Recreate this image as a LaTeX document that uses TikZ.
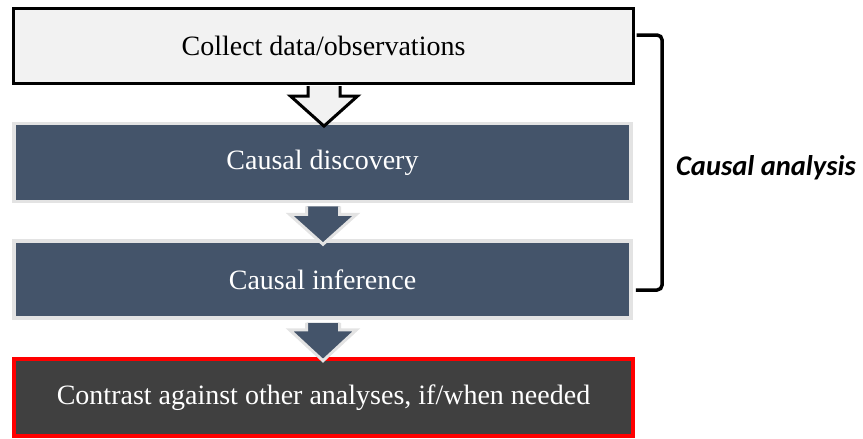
\documentclass[tikz,border=0pt]{standalone}
\usepackage{fontspec}
\setmainfont{Liberation Serif}
\newfontfamily\calib{Carlito}
\usetikzlibrary{calc}
\definecolor{topfill}{HTML}{F2F2F2}
\definecolor{slate}{HTML}{44546A}
\definecolor{edgegray}{HTML}{E3E3E3}
\definecolor{darkbox}{HTML}{404040}
\begin{document}
\begin{tikzpicture}[x=1pt,y=-1pt,
  boxbase/.style={rectangle, inner sep=0pt, font=\fontsize{28}{31}\selectfont},
  topbox/.style={boxbase, draw=black, fill=topfill, line width=3.2pt, text=black},
  midbox/.style={boxbase, draw=edgegray, fill=slate, line width=3.5pt, text=white},
  lastbox/.style={boxbase, draw=red, fill=darkbox, line width=3.8pt, text=white},
  toparrow/.style={draw=black, fill=topfill, line width=3pt, line join=miter},
  midarrow/.style={draw=edgegray, fill=slate, line width=3pt, line join=miter},
  bracket/.style={draw=black, line width=3.5pt, rounded corners=5pt},
]
\useasboundingbox (0,0) rectangle (863,439);

\node[topbox, minimum width=620pt, minimum height=75pt] (collect) at (323.5,46) {Collect data/observations};
\node[midbox, minimum width=617pt, minimum height=78pt] (disc) at (322.5,162.5) {Causal discovery};
\node[midbox, minimum width=617pt, minimum height=77pt] (inf) at (322.5,279.5) {Causal inference};

% arrow 1
\draw[toparrow] ($(collect.south)+(-15.5,1)$) -- ($(collect.south)+(-15.5,11)$) -- ($(collect.south)+(-33,11)$)
  -- ($(collect.south)+(0.5,41)$) -- ($(collect.south)+(34,11)$) -- ($(collect.south)+(16.5,11)$)
  -- ($(collect.south)+(16.5,1)$);
% arrow 2
\draw[midarrow] ($(disc.south)+(-16,3)$) -- ($(disc.south)+(-16,11)$) -- ($(disc.south)+(-33,11)$)
  -- ($(disc.south)+(0.5,41)$) -- ($(disc.south)+(34,11)$) -- ($(disc.south)+(17,11)$)
  -- ($(disc.south)+(17,3)$);
% last box and arrow 3
\node[lastbox, minimum width=619pt, minimum height=77pt] (contrast) at (323.5,397.5) {Contrast against other analyses, if/when needed};
\draw[midarrow] ($(inf.south)+(-16,3)$) -- ($(inf.south)+(-16,10)$) -- ($(inf.south)+(-33,10)$)
  -- ($(inf.south)+(0.5,41)$) -- ($(inf.south)+(34,10)$) -- ($(inf.south)+(17,10)$)
  -- ($(inf.south)+(17,3)$);

% bracket
\coordinate (btop) at ($(collect.east)+(0,-11)$);
\coordinate (bbot) at ($(inf.east)+(0,10.5)$);
\draw[bracket] ($(btop)+(1.5,0)$) -- ($(btop)+(27,0)$) |- ($(bbot)+(3,0)$);
\node[anchor=west, inner sep=0pt, font=\calib\bfseries\itshape\fontsize{28.5}{32}\selectfont] (lbl) at (676,168) {Causal analysis};
\end{tikzpicture}
\end{document}
